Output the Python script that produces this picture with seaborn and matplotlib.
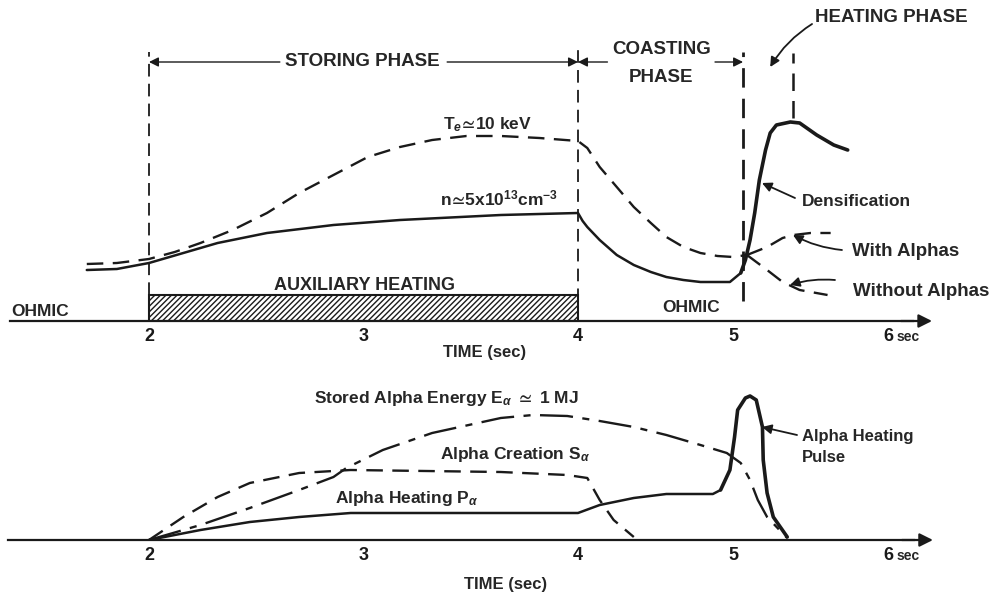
import numpy as np
import matplotlib
matplotlib.use('Agg')
import matplotlib.pyplot as plt
import seaborn as sns

# ---- data (time in s, heights in arbitrary units) ----
# upper panel: electron temperature (dashed)
te_t = [1.71, 1.85, 2.00, 2.12, 2.24, 2.39, 2.55, 2.70, 2.86, 3.02, 3.17, 3.32, 3.48, 3.64,
        3.82, 4.00, 4.06, 4.14, 4.25, 4.36, 4.47, 4.57, 4.68, 4.79, 4.90, 5.00, 5.09]
te_y = [0.57, 0.58, 0.62, 0.69, 0.78, 0.91, 1.08, 1.28, 1.46, 1.64, 1.74, 1.81, 1.85, 1.85,
        1.83, 1.80, 1.73, 1.54, 1.34, 1.14, 0.98, 0.84, 0.74, 0.68, 0.65, 0.64, 0.66]
with_t = [5.09, 5.22, 5.32, 5.39, 5.50, 5.63]
with_y = [0.66, 0.74, 0.83, 0.86, 0.88, 0.88]
without_t = [5.09, 5.22, 5.32, 5.43, 5.61]
without_y = [0.66, 0.51, 0.39, 0.31, 0.26]

# upper panel: density (solid), then the densification pulse (heavy)
n_t = [1.71, 1.85, 2.00, 2.16, 2.32, 2.55, 2.86, 3.17, 3.64, 4.00, 4.03, 4.06, 4.14, 4.25,
       4.36, 4.47, 4.57, 4.68, 4.79, 4.98, 5.05]
n_y = [0.51, 0.52, 0.58, 0.68, 0.78, 0.88, 0.96, 1.01, 1.06, 1.08, 1.00, 0.94, 0.81, 0.66,
       0.56, 0.49, 0.44, 0.41, 0.39, 0.39, 0.48]
dens_t = [5.05, 5.08, 5.11, 5.14, 5.17, 5.21, 5.24, 5.28, 5.37, 5.43, 5.54, 5.65, 5.74]
dens_y = [0.48, 0.61, 0.81, 1.08, 1.41, 1.71, 1.88, 1.96, 1.99, 1.98, 1.86, 1.76, 1.71]

# lower panel
e_t = [2.00, 2.24, 2.47, 2.70, 2.86, 2.92, 3.09, 3.32, 3.64, 3.79, 3.95, 4.14, 4.36, 4.57,
       4.79, 4.96, 5.05, 5.11, 5.16, 5.22, 5.30, 5.35]
e_y = [0.00, 0.15, 0.32, 0.50, 0.63, 0.72, 0.90, 1.07, 1.22, 1.25, 1.24, 1.19, 1.13, 1.05,
       0.95, 0.87, 0.77, 0.60, 0.40, 0.23, 0.10, 0.02]
s_t = [2.00, 2.16, 2.32, 2.47, 2.70, 2.94, 3.64, 3.95, 4.06, 4.14, 4.23, 4.36]
s_y = [0.00, 0.23, 0.43, 0.57, 0.67, 0.70, 0.68, 0.65, 0.62, 0.40, 0.20, 0.03]
p_t = [2.00, 2.24, 2.47, 2.70, 2.94, 3.64, 4.00, 4.14, 4.36, 4.57, 4.87, 4.92]
p_y = [0.00, 0.10, 0.18, 0.23, 0.27, 0.27, 0.27, 0.35, 0.42, 0.46, 0.46, 0.50]
pulse_t = [4.92, 4.98, 5.01, 5.03, 5.08, 5.11, 5.15, 5.19, 5.195, 5.22, 5.26, 5.35]
pulse_y = [0.50, 0.70, 1.03, 1.30, 1.42, 1.44, 1.40, 1.13, 0.80, 0.47, 0.23, 0.03]

# phases
aux_start, aux_end, aux_height = 2.0, 4.0, 0.26
phase_t = [2.0, 4.0, 5.065, 5.387]
phase_lo = [0.26, 0.0, 0.20, 2.03]
phase_hi = [2.69, 2.72, 2.69, 2.68]
phase_lw = [1.3, 1.3, 2.0, 1.8]

ticks = [2, 3, 4, 5, 6]
tick_labels = ['2', '3', '4', '5', '6']


# the original time axis is compressed after 4 s
def fwd(t):
    t = np.asarray(t, dtype=float)
    return np.where(t <= 4, t, 4 + (t - 4) * 0.7226)


def inv(u):
    u = np.asarray(u, dtype=float)
    return np.where(u <= 4, u, 4 + (u - 4) / 0.7226)


def setup_axis(ax, ymax, left, right):
    ax.set_xscale('function', functions=(fwd, inv))
    ax.set_xlim(1.3054, 6.7355)
    ax.set_ylim(0, ymax)
    for s in ['left', 'right', 'top']:
        ax.spines[s].set_visible(False)
    ax.spines['bottom'].set_linewidth(1.6)
    ax.spines['bottom'].set_color('k')
    ax.spines['bottom'].set_bounds(left, right - 0.12)
    ax.set_yticks([])
    ax.set_xticks(ticks)
    ax.set_xticklabels(tick_labels, fontsize=13, fontweight='bold')
    ax.xaxis.set_minor_locator(plt.NullLocator())
    ax.tick_params(axis='x', direction='in', length=6, width=1.6, pad=5, colors='k')
    ax.annotate('', xy=(right, 0), xytext=(right - 0.2, 0),
                arrowprops=dict(arrowstyle='-|>', color='k', lw=1.6,
                                mutation_scale=20, shrinkA=0, shrinkB=0))
    ax.text(6.058, -0.16, 'sec', fontsize=10, fontweight='bold', ha='left', va='center')
    ax.patch.set_alpha(0)


def arrow(ax, tail, head, rad=0.0, lw=1.3):
    ax.annotate('', xy=head, xytext=tail,
                arrowprops=dict(arrowstyle='-|>', color='k', lw=lw, mutation_scale=14,
                                shrinkA=0, shrinkB=0,
                                connectionstyle=f'arc3,rad={rad}'))


sns.set_theme(style='white')
plt.rcParams['font.family'] = ['Liberation Sans', 'DejaVu Sans']
plt.rcParams['font.weight'] = 'bold'
plt.rcParams['mathtext.fontset'] = 'custom'
plt.rcParams['mathtext.rm'] = 'Liberation Sans:bold'
plt.rcParams['mathtext.it'] = 'Liberation Sans:italic:bold'
plt.rcParams['mathtext.bf'] = 'Liberation Sans:bold'
plt.rcParams['mathtext.fallback'] = 'stixsans'
plt.rcParams['hatch.linewidth'] = 1.0

fig = plt.figure(figsize=(10.02, 5.93), dpi=100)
fig.patch.set_facecolor('white')

ax1 = fig.add_axes([0, 272 / 593, 1, 321 / 593])
ax2 = fig.add_axes([0, 53 / 593, 1, 180 / 593])
setup_axis(ax1, 3.21, 1.352, 6.284)
setup_axis(ax2, 1.80, 1.343, 6.29)

# ---- upper panel ----
ax1.bar([aux_start], [aux_height], width=[aux_end - aux_start], align='edge',
        fill=False, hatch='//////', edgecolor='k', linewidth=1.5)
ax1.vlines(phase_t, phase_lo, phase_hi, colors='k', linestyles=(0, (7, 4)),
           linewidths=phase_lw)

dash = (0, (7, 4))
sns.lineplot(x=te_t, y=te_y, ax=ax1, color='k', lw=1.7, linestyle=dash, sort=False, errorbar=None)
sns.lineplot(x=with_t, y=with_y, ax=ax1, color='k', lw=1.7, linestyle=dash, sort=False, errorbar=None)
sns.lineplot(x=without_t, y=without_y, ax=ax1, color='k', lw=1.7, linestyle=dash, sort=False, errorbar=None)
sns.lineplot(x=n_t, y=n_y, ax=ax1, color='k', lw=1.8, sort=False, errorbar=None)
sns.lineplot(x=dens_t, y=dens_y, ax=ax1, color='k', lw=2.6, sort=False, errorbar=None)

ax1.text(2.993, 2.59, 'STORING PHASE', fontsize=13.5, ha='center', va='center')
arrow(ax1, (2.61, 2.59), (2.0, 2.59), lw=1.0)
arrow(ax1, (3.39, 2.59), (4.0, 2.59), lw=1.0)
ax1.text(4.542, 2.71, 'COASTING', fontsize=13.5, ha='center', va='center')
ax1.text(4.535, 2.44, 'PHASE', fontsize=13.5, ha='center', va='center')
arrow(ax1, (4.19, 2.59), (4.0, 2.59), lw=1.0)
arrow(ax1, (4.884, 2.59), (5.065, 2.59), lw=1.0)
ax1.text(5.53, 3.03, 'HEATING PHASE', fontsize=13.5, ha='left', va='center')
arrow(ax1, (5.51, 2.97), (5.24, 2.54), rad=0.12, lw=1.3)

ax1.text(3.007, 0.36, 'AUXILIARY HEATING', fontsize=13, ha='center', va='center')
ax1.text(1.492, 0.10, 'OHMIC', fontsize=12.5, ha='center', va='center')
ax1.text(4.729, 0.14, 'OHMIC', fontsize=12.5, ha='center', va='center')
ax1.text(3.58, 1.96, r'T$_e\!\simeq\!$10 keV', fontsize=12.5, ha='center', va='center')
ax1.text(3.63, 1.23, r'n$\!\simeq\!$5x10$^{13}$cm$^{-3}$', fontsize=12.5, ha='center', va='center')

ax1.text(5.445, 1.19, 'Densification', fontsize=12.5, ha='left', va='center')
arrow(ax1, (5.40, 1.23), (5.187, 1.38))
ax1.text(5.768, 0.69, 'With Alphas', fontsize=13.5, ha='left', va='center')
arrow(ax1, (5.703, 0.71), (5.387, 0.86), rad=-0.1)
ax1.text(5.774, 0.29, 'Without Alphas', fontsize=13.5, ha='left', va='center')
arrow(ax1, (5.658, 0.41), (5.368, 0.36), rad=0.1)
ax1.text(3.566, -0.31, 'TIME (sec)', fontsize=12, ha='center', va='center')

# ---- lower panel ----
sns.lineplot(x=e_t, y=e_y, ax=ax2, color='k', lw=1.7, linestyle=(0, (14, 4, 3, 4)),
             sort=False, errorbar=None)
sns.lineplot(x=s_t, y=s_y, ax=ax2, color='k', lw=1.7, linestyle=dash, sort=False, errorbar=None)
sns.lineplot(x=p_t, y=p_y, ax=ax2, color='k', lw=1.8, sort=False, errorbar=None)
sns.lineplot(x=pulse_t, y=pulse_y, ax=ax2, color='k', lw=2.6, sort=False, errorbar=None)

ax2.text(3.385, 1.42, r'Stored Alpha Energy E$_\alpha$ $\simeq$ 1 MJ', fontsize=12.5,
         ha='center', va='center')
ax2.text(3.707, 0.85, r'Alpha Creation S$_\alpha$', fontsize=12.5, ha='center', va='center')
ax2.text(3.203, 0.41, r'Alpha Heating P$_\alpha$', fontsize=12.5, ha='center', va='center')
ax2.text(5.445, 1.03, 'Alpha Heating', fontsize=12, ha='left', va='center')
ax2.text(5.445, 0.83, 'Pulse', fontsize=12, ha='left', va='center')
arrow(ax2, (5.413, 1.05), (5.187, 1.13))
ax2.text(3.66, -0.45, 'TIME (sec)', fontsize=12, ha='center', va='center')

fig.savefig('out.png', dpi=100, facecolor='white')
